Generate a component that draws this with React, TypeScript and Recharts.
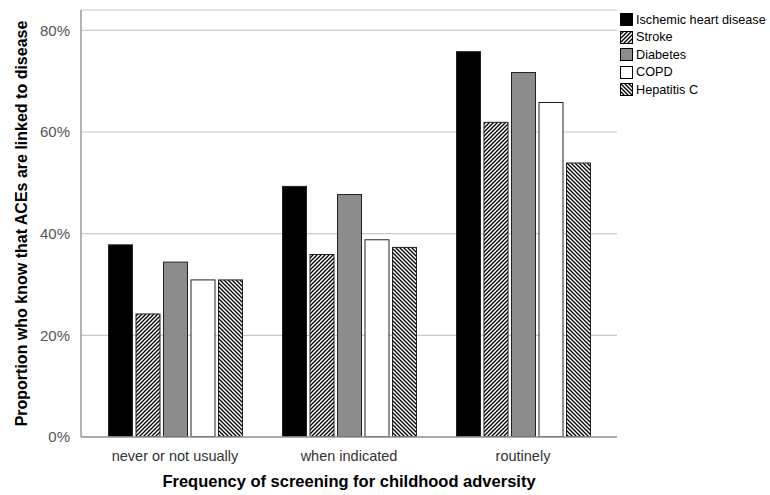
import { BarChart, Bar, XAxis, YAxis, CartesianGrid } from 'recharts';

const categories = ['never or not usually', 'when indicated', 'routinely'];
const ischemic = [0.379, 0.494, 0.759];
const stroke = [0.243, 0.36, 0.62];
const diabetes = [0.345, 0.478, 0.718];
const copd = [0.31, 0.389, 0.659];
const hepatitis = [0.31, 0.374, 0.54];
const yTicks = [0, 0.2, 0.4, 0.6, 0.8];

const series = [
  { key: 'ihd', name: 'Ischemic heart disease', fill: '#000000', values: ischemic },
  { key: 'stroke', name: 'Stroke', fill: 'url(#hatchUp)', values: stroke },
  { key: 'diabetes', name: 'Diabetes', fill: '#8c8c8c', values: diabetes },
  { key: 'copd', name: 'COPD', fill: '#ffffff', values: copd },
  { key: 'hepc', name: 'Hepatitis C', fill: 'url(#hatchDown)', values: hepatitis },
];

const data = categories.map((name, i) => {
  const row: Record<string, string | number> = { name };
  series.forEach((s) => {
    row[s.key] = s.values[i];
  });
  return row;
});

const font = '"Liberation Sans", Arial, sans-serif';

function Patterns({ suffix = '' }: { suffix?: string }) {
  return (
    <defs>
      <pattern id={'hatchUp' + suffix} patternUnits="userSpaceOnUse" width="4" height="4">
        <rect width="4" height="4" fill="#fff" />
        <path d="M-1,1 l2,-2 M0,4 l4,-4 M3,5 l2,-2" stroke="#000" strokeWidth="1.3" />
      </pattern>
      <pattern id={'hatchDown' + suffix} patternUnits="userSpaceOnUse" width="4" height="4">
        <rect width="4" height="4" fill="#fff" />
        <path d="M-1,3 l2,2 M0,0 l4,4 M3,-1 l2,2" stroke="#000" strokeWidth="1.3" />
      </pattern>
    </defs>
  );
}

// bar with a thin dark outline, like the SPSS output
const OutlinedBar = (fill: string) => (props: any) => {
  const { x, y, width, height } = props;
  if (!height || height <= 0) return <g />;
  return (
    <rect
      x={x + 0.5}
      y={y + 0.5}
      width={Math.max(width - 1, 0)}
      height={Math.max(height - 1, 0)}
      fill={fill}
      stroke="#222"
      strokeWidth={1}
    />
  );
};

function LegendBox() {
  return (
    <div style={{ position: 'absolute', left: 620, top: 11, fontFamily: font, fontSize: 12.7, color: '#000' }}>
      {series.map((s) => (
        <div key={s.key} style={{ display: 'flex', alignItems: 'center', height: 17.5 }}>
          <svg width={13} height={13} style={{ marginRight: 3 }}>
            <Patterns suffix="L" />
            <rect
              x={0.5}
              y={0.5}
              width={12}
              height={12}
              fill={s.fill.replace(')', 'L)')}
              stroke="#000"
              strokeWidth={1}
            />
          </svg>
          <span>{s.name}</span>
        </div>
      ))}
    </div>
  );
}

export default function App() {
  return (
    <div style={{ position: 'absolute', left: 0, top: 0, width: 770, height: 495, background: '#fff' }}>
      <BarChart
        width={770}
        height={495}
        data={data}
        margin={{ top: 10, right: 153, left: 0, bottom: 28 }}
        barGap={2.5}
        barSize={25}
      >
        <Patterns />
        <CartesianGrid vertical={false} stroke="#c8c8c8" strokeWidth={1.2} />
        <XAxis
          dataKey="name"
          height={30}
          axisLine={{ stroke: '#999', strokeWidth: 1.5 }}
          tickLine={false}
          tickMargin={8}
          padding={{ left: 7, right: 7 }}
          tick={{ fill: '#333', fontSize: 14.5, fontFamily: font }}
          label={{
            value: 'Frequency of screening for childhood adversity',
            position: 'insideBottom',
            offset: -20,
            style: { fill: '#000', fontSize: 16.5, fontWeight: 'bold', fontFamily: font },
          }}
        />
        <YAxis
          width={81}
          domain={[0, 0.84]}
          ticks={yTicks}
          axisLine={{ stroke: '#999', strokeWidth: 1.5 }}
          tickLine={false}
          tickMargin={5}
          tickFormatter={(v: number) => `${Math.round(v * 100)}%`}
          tick={{ fill: '#555', fontSize: 15, fontFamily: font }}
          label={{
            value: 'Proportion who know that ACEs are linked to disease',
            angle: -90,
            position: 'insideLeft',
            offset: 21,
            style: { fill: '#000', fontSize: 16, fontWeight: 'bold', fontFamily: font, textAnchor: 'middle' },
          }}
        />
        {series.map((s) => (
          <Bar
            key={s.key}
            dataKey={s.key}
            name={s.name}
            fill={s.fill}
            shape={OutlinedBar(s.fill)}
            isAnimationActive={false}
          />
        ))}
      </BarChart>
      <LegendBox />
    </div>
  );
}
